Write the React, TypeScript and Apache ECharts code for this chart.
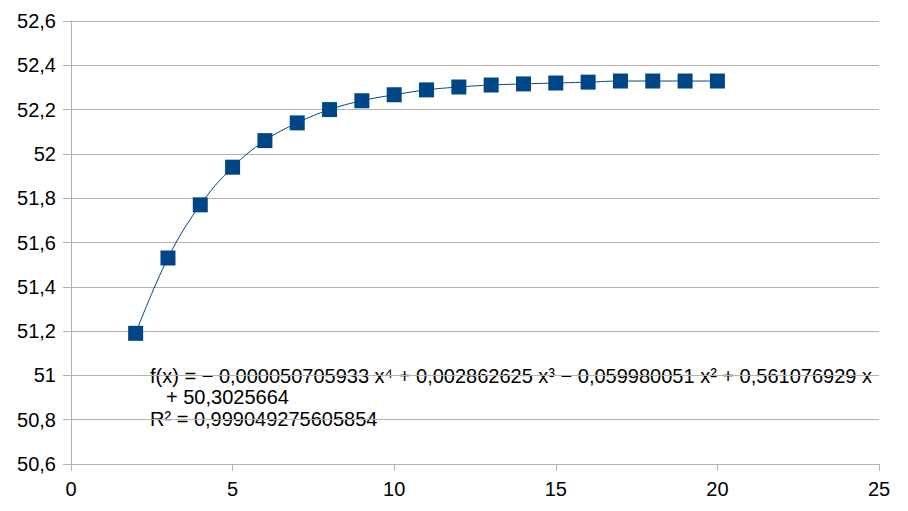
import React, { useEffect, useRef } from "react";
import * as echarts from "echarts";

const xValues = [2, 3, 4, 5, 6, 7, 8, 9, 10, 11, 12, 13, 14, 15, 16, 17, 18, 19, 20];
const yValues = [51.19, 51.53, 51.77, 51.94, 52.06, 52.14, 52.2, 52.24, 52.267, 52.289, 52.302, 52.311, 52.316, 52.32, 52.324, 52.329, 52.329, 52.329, 52.329];
const equationLines = [
  "f(x) = − 0,000050705933 x⁴ + 0,002862625 x³ − 0,059980051 x² + 0,561076929 x",
  "+ 50,3025664",
  "R² = 0,999049275605854",
];

export default function App() {
  const ref = useRef<HTMLDivElement>(null);
  useEffect(() => {
    if (!ref.current) return;
    const chart = echarts.init(ref.current, null, { renderer: "svg" });
    const fmt = (v: number) => String(Number(v.toFixed(1))).replace(".", ",");
    const textX = [150, 166, 150];
    const textY = [375.5, 396.5, 419];
    chart.setOption({
      animation: false,
      backgroundColor: "#ffffff",
      grid: { left: 71, right: 29, top: 21, bottom: 47, containLabel: false },
      xAxis: {
        type: "value",
        min: 0,
        max: 25,
        interval: 5,
        axisLine: { show: true, lineStyle: { color: "#b3b3b3", width: 1 } },
        axisTick: { show: true, length: 7, inside: false, lineStyle: { color: "#b3b3b3" } },
        splitLine: { show: false },
        axisLabel: { color: "#000", fontSize: 20, fontFamily: "Liberation Sans", margin: 15 },
      },
      yAxis: {
        type: "value",
        min: 50.6,
        max: 52.6,
        interval: 0.2,
        axisLine: { show: true, lineStyle: { color: "#b3b3b3", width: 1 } },
        axisTick: { show: true, length: 8, inside: false, lineStyle: { color: "#b3b3b3" } },
        splitLine: { show: true, lineStyle: { color: "#b3b3b3", width: 1 } },
        axisLabel: { color: "#000", fontSize: 20, fontFamily: "Liberation Sans", margin: 15, formatter: fmt },
      },
      series: [
        {
          type: "line",
          data: xValues.map((x, i) => [x, yValues[i]]),
          smooth: 0.4,
          symbol: "rect",
          symbolSize: 15,
          itemStyle: { color: "#004586" },
          lineStyle: { color: "#004586", width: 1 },
        },
      ],
      graphic: equationLines.map((t, i) => ({
        type: "text",
        x: textX[i],
        y: textY[i],
        style: {
          text: t,
          fontSize: 20,
          fontFamily: "Liberation Sans",
          fill: "#000",
          verticalAlign: "middle",
          align: "left",
        },
      })),
    });
    return () => chart.dispose();
  }, []);
  return <div ref={ref} style={{ position: "fixed", left: 0, top: 0, width: 908, height: 511 }} />;
}
